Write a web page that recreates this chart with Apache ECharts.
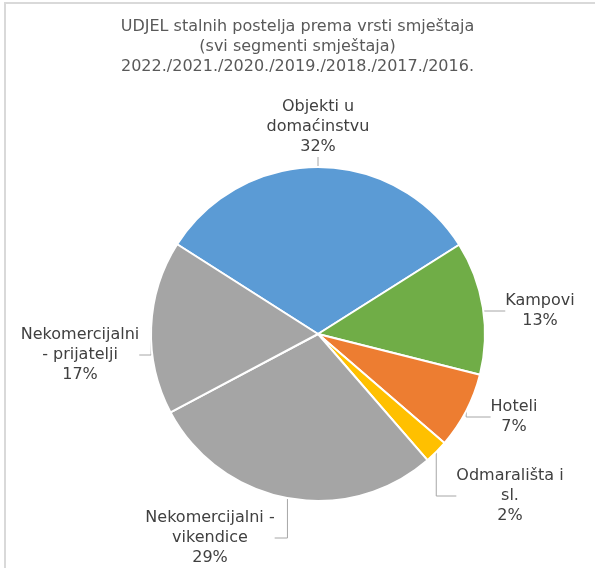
<!DOCTYPE html>
<html>
<head>
<meta charset="utf-8">
<script src="https://cdn.jsdelivr.net/npm/echarts@6/dist/echarts.min.js"></script>
<style>
  html, body { margin: 0; padding: 0; background: #fff; }
  #chart { width: 595px; height: 568px; }
</style>
</head>
<body>
<div id="chart"></div>
<script>
const categories = [
  'Objekti u\ndomaćinstvu',
  'Kampovi',
  'Hoteli',
  'Odmarališta i\nsl.',
  'Nekomercijalni -\nvikendice',
  'Nekomercijalni\n- prijatelji'
]
const shares = [32.0, 12.9, 7.4, 2.3, 28.6, 16.8]
const colors = ['#5b9bd5', '#70ad47', '#ed7d31', '#ffc000', '#a5a5a5', '#a5a5a5']

// label anchor spots
const labelSpots = [
  { x: 318, y: 97 },
  { x: 540, y: 291 },
  { x: 514, y: 397 },
  { x: 510, y: 466 },
  { x: 210, y: 508 },
  { x: 80, y: 325 }
]

const chart = echarts.init(document.getElementById('chart'))
chart.setOption({
  backgroundColor: '#fff',
  animation: false,
  title: {
    text: 'UDJEL stalnih postelja prema vrsti smještaja\n(svi segmenti smještaja)\n2022./2021./2020./2019./2018./2017./2016.',
    left: 'center',
    top: 12,
    textStyle: {
      fontFamily: 'DejaVu Sans',
      fontSize: 16,
      fontWeight: 'normal',
      color: '#595959',
      lineHeight: 20
    }
  },
  graphic: [{
    type: 'polyline',
    shape: { points: [[5, 568], [5, 3], [595, 3]] },
    style: { stroke: '#d9d9d9', lineWidth: 2, fill: null }
  }],
  series: [{
    type: 'pie',
    center: [318, 334],
    radius: 167,
    startAngle: 147.5,
    clockwise: true,
    percentPrecision: 0,
    itemStyle: { borderColor: '#fff', borderWidth: 2 },
    label: {
      formatter: '{b}\n{d}%',
      fontFamily: 'DejaVu Sans',
      fontSize: 16,
      lineHeight: 20,
      color: '#404040',
      overflow: 'none'
    },
    labelLine: {
      show: true,
      lineStyle: { color: '#a6a6a6', width: 1 }
    },
    labelLayout: (params) => {
      const s = labelSpots[params.dataIndex]
      return { x: s.x, y: s.y, align: 'center', verticalAlign: 'top' }
    },
    data: categories.map((name, i) => ({
      name,
      value: shares[i],
      itemStyle: { color: colors[i] }
    }))
  }]
})
</script>
</body>
</html>
